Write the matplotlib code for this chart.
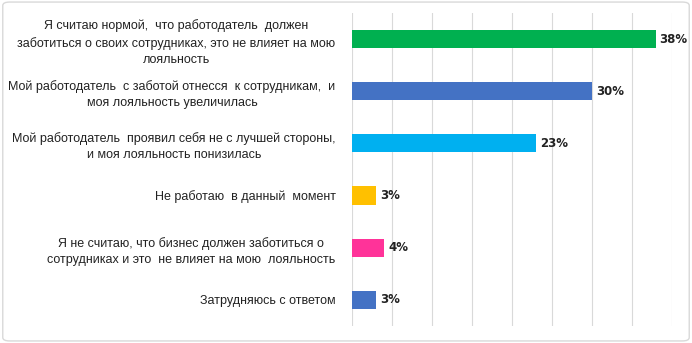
import matplotlib.pyplot as plt
from matplotlib.patches import FancyBboxPatch

labels = [
    "Я считаю нормой,  что работодатель  должен\nзаботиться о своих сотрудниках, это не влияет на мою\nлояльность",
    "Мой работодатель  с заботой отнесся  к сотрудникам,  и\nмоя лояльность увеличилась",
    "Мой работодатель  проявил себя не с лучшей стороны,\nи моя лояльность понизилась",
    "Не работаю  в данный  момент",
    "Я не считаю, что бизнес должен заботиться о\nсотрудниках и это  не влияет на мою  лояльность",
    "Затрудняюсь с ответом",
]
values = [38, 30, 23, 3, 4, 3]
colors = ["#00B050", "#4472C4", "#00B0F0", "#FFC000", "#FF3399", "#4472C4"]

plt.rcParams['font.family'] = ['Liberation Sans', 'DejaVu Sans']

fig = plt.figure(figsize=(6.92, 3.43), dpi=100)
ax = fig.add_axes([0.509, 0.05, 0.462, 0.912])

y = list(range(len(values)))
ax.barh(y, values, height=0.35, color=colors, zorder=3)
for yi, v in zip(y, values):
    ax.text(v + 0.5, yi, f"{v}%", va='center', ha='left', fontsize=8.5,
            fontweight='bold', color='#222222', family='DejaVu Sans')

ax.set_xlim(0, 40.05)
ax.set_ylim(len(values) - 0.5, -0.5)
ax.set_xticks(range(0, 41, 5))
ax.xaxis.grid(True, color='#D9D9D9', linewidth=0.8, zorder=0)
ax.tick_params(axis='x', length=0, labelbottom=False)
ax.tick_params(axis='y', length=0, pad=12)
ax.set_yticks(y)
ax.set_yticklabels(labels, fontsize=9, color='#222222', linespacing=1.45)
for t in ax.get_yticklabels():
    t.set_multialignment('center')
for s in ax.spines.values():
    s.set_visible(False)

border = FancyBboxPatch((0.004, 0.006), 0.992, 0.988, boxstyle="round,pad=0,rounding_size=0.01",
                        transform=fig.transFigure, fill=False, edgecolor='#D9D9D9', linewidth=1)
fig.patches.append(border)

fig.savefig("out.png", dpi=100)
